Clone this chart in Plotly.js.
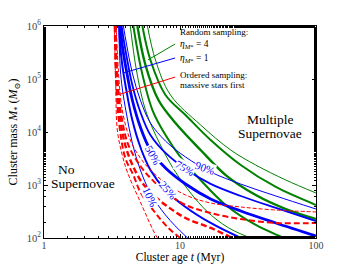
<!DOCTYPE html>
<html><head><meta charset="utf-8">
<script src="https://cdn.plot.ly/plotly-3.0.1.min.js"></script>
<style>html,body{margin:0;padding:0;background:#fff}#c{width:352px;height:264px}</style>
</head><body><div id="c"></div>
<script>
// ---- data (cluster age in Myr, cluster mass in Msun) ----
var tBlue = [3.52, 3.64, 3.76, 4.03, 4.46, 5.11, 6.06, 7.82, 10.98, 16.8, 28.0, 50.7, 100];
var blue90 = [3.68e7, 3.23e6, 1.42e6, 4.78e5, 1.30e5, 4.0e4, 1.48e4, 6760, 3380, 1760, 1040, 620, 352];
var blue75 = [2.19e7, 1.92e6, 8.43e5, 2.84e5, 7.72e4, 2.38e4, 8770, 4020, 2010, 1050, 620, 369, 209];
var blue50 = [1.14e7, 1.0e6, 4.39e5, 1.48e5, 4.02e4, 1.24e4, 4570, 2094, 1045, 545, 323, 192, 109];
var blue25 = [4.78e6, 4.20e5, 1.84e5, 6.19e4, 1.68e4, 5210, 1920, 806, 385, 192, 100, 52, 26];
var blue10 = [1.76e6, 1.55e5, 6.76e4, 2.28e4, 6190, 1920, 706, 272, 109, 43.8, 19.2, 8.4, 3.4];

var tGreen90 = [5.76, 6.60, 8.51, 14.17, 23.59, 36.07, 60.06, 100];
var green90  = [1.0e6, 2.28e5, 4.99e4, 1.36e4, 4570, 2380, 1240, 706];
var tGreen75 = [5.29, 6.06, 7.82, 10.98, 16.8, 27.96, 50.68, 100];
var green75  = [1.0e6, 2.28e5, 4.99e4, 2.09e4, 7060, 2380, 917, 420];
var tGreen50 = [4.86, 5.57, 6.94, 9.26, 14.17, 21.67, 36.07, 60.06, 100];
var green50  = [1.0e6, 1.84e5, 4.02e4, 1.48e4, 4570, 1540, 647, 352, 228];
var tGreen25 = [4.54, 5.20, 6.27, 7.82, 10.09, 14.17, 21.67, 36.07, 58.05, 70];
var green25  = [1.0e6, 1.48e5, 2.60e4, 8770, 3370, 1240, 420, 176, 100, 80];
var tGreen10 = [4.31, 4.78, 5.57, 7.18, 9.58, 15.43, 22.80, 33.14, 40];
var green10  = [1.0e6, 1.48e5, 2.60e4, 5690, 1540, 337, 155, 100, 85];

var tRed90 = [3.40, 3.52, 3.76, 4.31, 5.11, 6.06, 7.82, 10.98, 16.8, 27.96, 50.68, 100];
var red90  = [1.0e6, 1.48e5, 2.60e4, 7060, 3230, 1920, 1090, 647, 457, 385, 337, 310];
var tRed75 = [3.37, 3.46, 3.70, 4.17, 5.11, 6.06, 7.82, 10.98, 16.8, 27.96, 50.68, 100];
var red75  = [1.0e6, 1.19e5, 2.09e4, 5690, 2280, 1360, 738, 420, 296, 228, 192, 192];
var tRed50 = [3.34, 3.43, 3.64, 4.10, 5.11, 6.06, 7.82, 10.98, 16.8, 24.41, 30];
var red50  = [1.0e6, 9.57e4, 1.68e4, 4200, 1240, 738, 420, 238, 155, 100, 80];
var tRed25 = [3.31, 3.40, 3.58, 3.96, 4.54, 5.11, 6.60, 8.09, 10.09, 12];
var red25  = [1.0e6, 7.71e4, 1.36e4, 3230, 1540, 738, 296, 161, 100, 80];
var tRed10 = [3.29, 3.37, 3.46, 3.76, 4.10, 5.11, 6.82, 8];
var red10  = [1.0e6, 7.71e4, 1.09e4, 3680, 1760, 478, 100, 60];

var xTickVals = [1, 10, 100];
var xTickText = ['1', '10', '100'];
var yTickVals = [100, 1000, 10000, 100000, 1000000];
var yTickText = ['10<sup>2</sup>', '10<sup>3</sup>', '10<sup>4</sup>', '10<sup>5</sup>', '10<sup>6</sup>'];
var pctLabels = ['10%', '25%', '50%', '75%', '90%'];

// ---- traces ----
function tr(x, y, color, width, dash) {
  return {x: x, y: y, type: 'scatter', mode: 'lines', hoverinfo: 'skip',
          line: {color: color, width: width, dash: dash || 'solid', shape: 'spline', smoothing: 1}};
}
var B = '#0000ff', G = '#008000', R = '#ff0000';
var traces = [
  tr(tGreen90, green90, G, 1.0), tr(tGreen75, green75, G, 2.0), tr(tGreen50, green50, G, 2.4),
  tr(tGreen25, green25, G, 2.0), tr(tGreen10, green10, G, 1.0),
  tr(tBlue, blue90, B, 1.0), tr(tBlue, blue75, B, 1.8), tr(tBlue, blue50, B, 2.8),
  tr(tBlue, blue25, B, 2.0), tr(tBlue, blue10, B, 1.0),
  tr(tRed90, red90, R, 1.0, '4px,2px'), tr(tRed75, red75, R, 2.0, '6px,3px'),
  tr(tRed50, red50, R, 2.4, '6px,3px'), tr(tRed25, red25, R, 2.0, '6px,3px'),
  tr(tRed10, red10, R, 1.0, '4px,2px')
];

var serif = 'Liberation Serif, DejaVu Serif, serif';
function ann(x, y, text, opts) {
  var a = {xref: 'paper', yref: 'paper', x: x, y: y, text: text, showarrow: false,
           font: {family: serif, size: 10, color: '#000'}, xanchor: 'left', yanchor: 'middle'};
  for (var k in (opts || {})) a[k] = opts[k];
  return a;
}
var annotations = [
  ann(0.493, 0.972, 'Random sampling:', {font: {family: serif, size: 9, color: '#000'}}),
  ann(0.493, 0.915, '<i>η</i><sub><i>M</i>*</sub> = 4', {font: {family: serif, size: 9.5, color: '#000'}}),
  ann(0.493, 0.849, '<i>η</i><sub><i>M</i>*</sub> = 1', {font: {family: serif, size: 9.5, color: '#000'}}),
  ann(0.493, 0.769, 'Ordered sampling:', {font: {family: serif, size: 9, color: '#000'}}),
  ann(0.493, 0.722, 'massive stars first', {font: {family: serif, size: 9, color: '#000'}}),
  ann(0.831, 0.561, 'Multiple', {xanchor: 'center', font: {family: serif, size: 13.5, color: '#000'}}),
  ann(0.831, 0.495, 'Supernovae', {xanchor: 'center', font: {family: serif, size: 13.5, color: '#000'}}),
  ann(0.081, 0.321, 'No', {xanchor: 'center', font: {family: serif, size: 13.5, color: '#000'}}),
  ann(0.143, 0.259, 'Supernovae', {xanchor: 'center', font: {family: serif, size: 13.5, color: '#000'}})
];
var labPos = [[0.390, 0.193, 65], [0.456, 0.226, 50], [0.401, 0.392, 60], [0.518, 0.330, 30], [0.592, 0.330, 20]];
for (var i = 0; i < pctLabels.length; i++) {
  annotations.push(ann(labPos[i][0], labPos[i][1], pctLabels[i], {xanchor: 'center', textangle: labPos[i][2],
    bgcolor: '#fff', borderpad: 0, font: {family: serif, size: 11, color: B}}));
}
var shapes = [
  {type: 'line', xref: 'paper', yref: 'paper', x0: 0.382, y0: 0.840, x1: 0.482, y1: 0.915, line: {color: G, width: 1}},
  {type: 'line', xref: 'paper', yref: 'paper', x0: 0.290, y0: 0.778, x1: 0.482, y1: 0.849, line: {color: B, width: 1}},
  {type: 'line', xref: 'paper', yref: 'paper', x0: 0.272, y0: 0.675, x1: 0.482, y1: 0.759, line: {color: R, width: 1}}
];

var layout = {
  width: 352, height: 264, margin: {l: 44, r: 36, t: 26, b: 26},
  paper_bgcolor: '#fff', plot_bgcolor: '#fff', showlegend: false,
  font: {family: serif, size: 10, color: '#000'},
  xaxis: {type: 'log', range: [0, 2], tickvals: xTickVals, ticktext: xTickText,
          ticks: 'inside', ticklen: 4, tickcolor: '#000', showgrid: false, zeroline: false,
          showline: true, linecolor: '#000', linewidth: 1, mirror: 'ticks',
          minor: {ticks: 'inside', ticklen: 2, tickcolor: '#000', showgrid: false},
          ticklabelstandoff: -2,
          tickfont: {family: serif, size: 10, color: '#444'},
          title: {text: 'Cluster age <i>t</i> (Myr)', standoff: 8, font: {family: serif, size: 11.5}}},
  yaxis: {type: 'log', range: [2, 6], tickvals: yTickVals, ticktext: yTickText,
          ticks: 'inside', ticklen: 4, tickcolor: '#000', showgrid: false, zeroline: false,
          showline: true, linecolor: '#000', linewidth: 1, mirror: 'ticks',
          minor: {ticks: 'inside', ticklen: 2, tickcolor: '#000', showgrid: false},
          tickfont: {family: serif, size: 10.5, color: '#444'},
          title: {text: 'Cluster mass <i>M</i><sub>*</sub> (<i>M</i><sub>⊙</sub>)', standoff: 6, font: {family: serif, size: 12}}},
  annotations: annotations, shapes: shapes
};
Plotly.newPlot('c', traces, layout, {staticPlot: true, displayModeBar: false});
</script></body></html>
